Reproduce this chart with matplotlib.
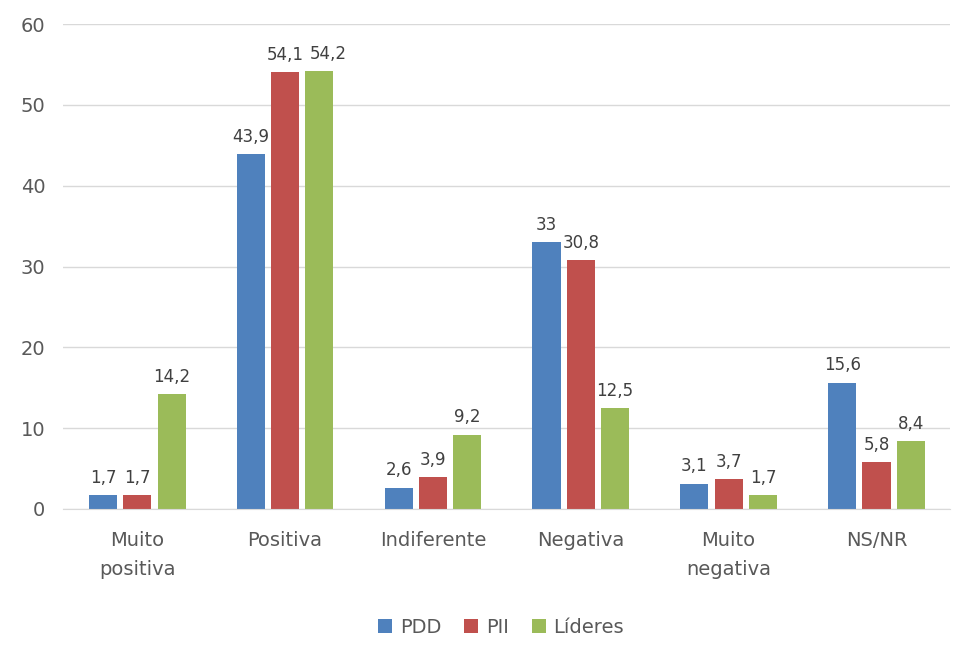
import matplotlib.pyplot as plt
import numpy as np

plt.rcParams['font.family'] = ['DejaVu Sans']

categories = ['Muito\npositiva', 'Positiva', 'Indiferente', 'Negativa', 'Muito\nnegativa', 'NS/NR']
series = ['PDD', 'PII', 'Líderes']
pdd = [1.7, 43.9, 2.6, 33, 3.1, 15.6]
pii = [1.7, 54.1, 3.9, 30.8, 3.7, 5.8]
lideres = [14.2, 54.2, 9.2, 12.5, 1.7, 8.4]
colors = ['#4F81BD', '#C0504D', '#9BBB59']

fig = plt.figure(figsize=(9.6, 6.54), dpi=100)
ax = fig.add_axes([0.066, 0.222, 0.924, 0.741])

x = np.arange(len(categories))
step = 0.232
width = 0.19
txt = '#595959'

labels = [[] for _ in categories]
for i, (name, vals) in enumerate(zip(series, [pdd, pii, lideres])):
    pos = x + (i - 1) * step
    bars = ax.bar(pos, vals, width, color=colors[i], label=name, zorder=3)
    for j, (b, v) in enumerate(zip(bars, vals)):
        lab = ('%g' % v).replace('.', ',')
        t = ax.annotate(lab, (b.get_x() + b.get_width() / 2, v), xytext=(0, 6),
                        textcoords='offset points', ha='center', va='bottom',
                        fontsize=12, color='#404040')
        labels[j].append(t)

ax.set_xlim(-0.5, 5.5)
ax.set_ylim(0, 60)
ax.set_yticks(range(0, 61, 10))
ax.set_xticks(x)
ax.set_xticklabels(categories, linespacing=1.65)
ax.tick_params(axis='both', length=0, labelsize=14, colors=txt)
ax.tick_params(axis='x', pad=16)
ax.tick_params(axis='y', pad=13)
ax.grid(axis='y', color='#D9D9D9', linewidth=1, zorder=0)
for s in ['top', 'right', 'left']:
    ax.spines[s].set_visible(False)
ax.spines['bottom'].set_color('#D9D9D9')
ax.spines['bottom'].set_zorder(4)

# push apart data labels that collide, like Excel does
fig.canvas.draw()
r = fig.canvas.get_renderer()
for grp in labels:
    for a, b in zip(grp[:-1], grp[1:]):
        ba = a.get_window_extent(r)
        bb = b.get_window_extent(r)
        if ba.overlaps(bb) or (bb.x0 - ba.x1 < 5 and abs(ba.y0 - bb.y0) < ba.height):
            shift = (ba.x1 + 6 - bb.x0) * 72 / fig.dpi
            ox, oy = b.xyann
            b.xyann = (ox + shift, oy)

fig.legend(loc='center', bbox_to_anchor=(0.522, 0.041), ncol=3, frameon=False,
           fontsize=14, handlelength=0.7, handleheight=0.7, handletextpad=0.4,
           columnspacing=1.2, labelcolor=txt)

fig.savefig('out.png', dpi=100)
